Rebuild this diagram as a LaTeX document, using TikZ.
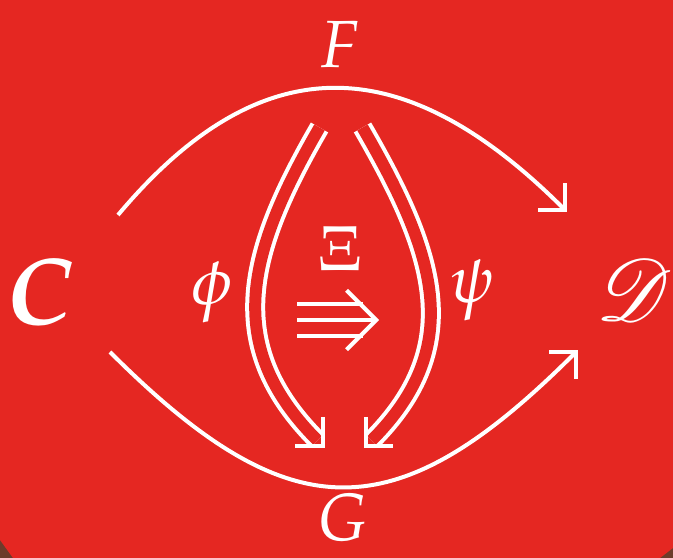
\documentclass[tikz,border=0pt]{standalone}
\usepackage{mathpazo}
\usepackage{mathrsfs}
\usepackage{bm}
\usetikzlibrary{arrows.meta}
\definecolor{CatRed}{HTML}{E52722}
\definecolor{CatBrown}{HTML}{6D3B2B}

\begin{document}
\begin{tikzpicture}[x=0.02cm,y=0.02cm, every node/.style={text=white,inner sep=0pt,font=\fontsize{38}{44}\selectfont}]
    \tikzset{onecell/.style={draw=white,line width=0.08cm,-{Straight Barb[sharp,angle=90:0.54cm]}},
      twocell/.style={draw=white,line width=0.08cm,double=CatRed,double distance=0.24cm,shorten >=0.16cm},
      barb/.style={draw=white,line width=0.08cm}}
    \fill[CatBrown] (0,0) rectangle (673,558);
    \fill[CatRed] (0,18) -- (0,558) -- (673,558) -- (673,10) -- (660,0) -- (13,0) -- cycle;
    \useasboundingbox (0,0) rectangle (673,558);
    % objects and labels
    \node (C) at (40,265) {\fontsize{54}{60}\selectfont$\bm{C}$};
    \node[scale=2.0] (D) at (634,268) {\fontsize{24.88}{30}\selectfont$\mathscr{D}$};
    \node (F) at (340,513) {$F$};
    \node (G) at (343,40) {$G$};
    \node (phi) at (212,266) {$\phi$};
    \node (psi) at (472,268) {$\psi$};
    \node[scale=0.72] (xi) at (340,309) {\fontsize{50}{56}\selectfont$\Xi$};
    % 1-cells
    \coordinate (CF) at (118,343); \coordinate (DF) at (567,346);
    \coordinate (CG) at (110,206); \coordinate (DG) at (578,208);
    \draw[onecell] (CF) to[out=50,in=135,looseness=1.29] (DF);
    \draw[onecell] (CG) to[out=-45,in=-135,looseness=1.40] (DG);
    % 2-cells
    \coordinate (phi top) at (319.5,430.5); \coordinate (phi tip) at (323,112);
    \coordinate (psi top) at (362.5,430.5); \coordinate (psi tip) at (366,112);
    \draw[twocell] (phi top) to[out=240,in=135,looseness=1.15] (phi tip);
    \draw[twocell] (psi top) to[out=-60,in=45,looseness=1.15] (psi tip);
    \draw[barb] ([shift={(0,29)}]phi tip) -- (phi tip) -- ++(-28,0);
    \draw[barb] ([shift={(0,29)}]psi tip) -- (psi tip) -- ++(27,0);
    % 3-cell
    \coordinate (xi tail) at (297,238); \coordinate (xi tip) at (379,238);
    \foreach \dy in {-16,16}{\draw[barb] ([shift={(0,\dy)}]xi tail) -- ++(66,0);}
    \draw[barb,-{Straight Barb[sharp,angle=90:0.84cm]}] (xi tail) -- (xi tip);
\end{tikzpicture}
\end{document}
